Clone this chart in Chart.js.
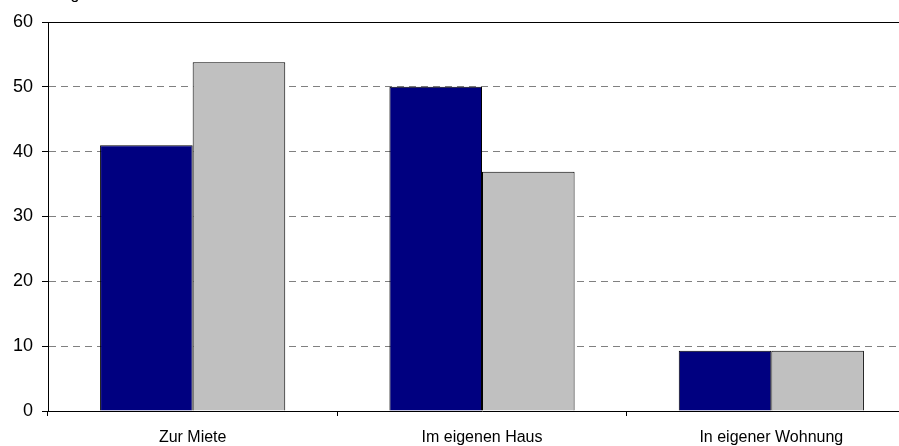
<!DOCTYPE html>
<html>
<head>
<meta charset="utf-8">
<script src="https://cdn.jsdelivr.net/npm/chart.js@4.4.1/dist/chart.umd.min.js"></script>
<style>
  html, body { margin: 0; padding: 0; background: #fff; overflow: hidden; }
  #wrap { width: 899px; height: 446px; position: relative; overflow: hidden; }
  #c { position: absolute; left: 0; top: 0; }
</style>
</head>
<body>
<div id="wrap"><canvas id="c" width="916" height="446"></canvas></div>
<script>
// Wohnsituation (Angaben in %)
const categories = ['Zur Miete', 'Im eigenen Haus', 'In eigener Wohnung'];
const seriesA = [41.0, 50.0, 9.3];
const seriesB = [53.8, 36.9, 9.3];
const yTicks = [0, 10, 20, 30, 40, 50, 60];
const unitLabel = 'Angaben in %';

const fontFamily = 'Arial, "Liberation Sans", Helvetica, sans-serif';

// Solid top frame line at the axis maximum plus the clipped unit label
const framePlugin = {
  id: 'frame',
  afterDraw(chart) {
    const { ctx, chartArea, scales } = chart;
    const y = Math.round(scales.y.getPixelForValue(yTicks[yTicks.length - 1])) + 0.5;
    ctx.save();
    ctx.setTransform(1, 0, 0, 1, 0, 0);
    ctx.strokeStyle = '#000';
    ctx.lineWidth = 1;
    ctx.setLineDash([]);
    ctx.beginPath();
    ctx.moveTo(chartArea.left, y);
    ctx.lineTo(chartArea.right, y);
    ctx.stroke();
    ctx.fillStyle = '#000';
    ctx.font = '16px ' + fontFamily;
    ctx.textAlign = 'left';
    ctx.textBaseline = 'alphabetic';
    ctx.fillText(unitLabel, 51, -1);
    ctx.restore();
  }
};

new Chart(document.getElementById('c'), {
  type: 'bar',
  data: {
    labels: categories,
    datasets: [
      { data: seriesA, backgroundColor: '#000080', borderColor: '#000', borderWidth: 1 },
      { data: seriesB, backgroundColor: '#C0C0C0', borderColor: '#000', borderWidth: 1 }
    ]
  },
  options: {
    responsive: false,
    animation: false,
    devicePixelRatio: 1,
    layout: { padding: { top: 22, right: 0, left: 0, bottom: 0 } },
    plugins: { legend: { display: false }, tooltip: { enabled: false } },
    datasets: { bar: { categoryPercentage: 0.64, barPercentage: 1.0 } },
    scales: {
      x: {
        grid: { offset: true, drawOnChartArea: false, drawTicks: true, tickLength: 5, tickColor: '#000' },
        border: { display: true, color: '#000', width: 1 },
        ticks: { color: '#000', font: { family: fontFamily, size: 16 }, padding: 12, maxRotation: 0 },
        afterFit(scale) { scale.height = 35; }
      },
      y: {
        min: 0,
        max: 60,
        afterBuildTicks(scale) { scale.ticks = yTicks.map(v => ({ value: v })); },
        grid: {
          color: ctx => (ctx.tick && (ctx.tick.value === 0 || ctx.tick.value === 60)) ? 'rgba(0,0,0,0)' : '#808080',
          lineWidth: 1,
          drawTicks: true,
          tickLength: 6,
          tickColor: '#000'
        },
        border: { display: true, color: '#000', width: 1, dash: [7, 5] },
        ticks: { color: '#000', font: { family: fontFamily, size: 18 }, padding: 9 },
        afterFit(scale) { scale.width = 48; }
      }
    }
  },
  plugins: [framePlugin]
});
</script>
</body>
</html>
